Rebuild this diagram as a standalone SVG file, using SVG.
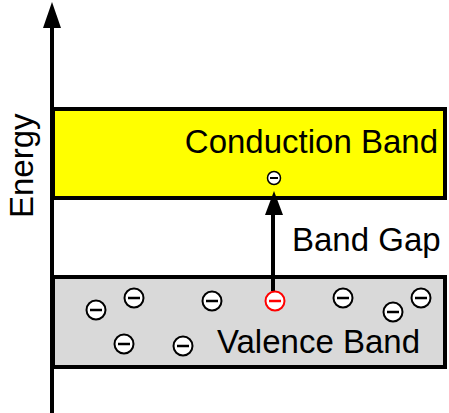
<svg xmlns="http://www.w3.org/2000/svg" width="449" height="413" viewBox="0 0 449 413">
<style>
.band{stroke:#000;stroke-width:4}
.lbl{font-family:"Liberation Sans",Arial,sans-serif;font-size:33px;fill:#000}
.e circle{fill:#fff;stroke:#000;stroke-width:2}
.e line{stroke:#000;stroke-width:2.5}
.red circle{stroke:#f00}
.red line{stroke:#f00}
</style>
<g id="conduction-band">
<rect class="band" x="53" y="109" width="392" height="89" fill="#ffff00"/>
<text class="lbl" x="438" y="153" text-anchor="end">Conduction Band</text>
</g>
<g id="valence-band">
<rect class="band" x="53" y="277" width="392" height="90" fill="#d9d9d9"/>
<text class="lbl" x="420" y="353" text-anchor="end">Valence Band</text>
</g>
<g id="axis">
<line x1="52" y1="26" x2="52" y2="413" stroke="#000" stroke-width="4"/>
<polygon points="52,2 43,28 61,28" fill="#000"/>
<text class="lbl" transform="translate(33,218) rotate(-90)">Energy</text>
</g>
<g id="connectors">
<line x1="273" y1="291" x2="273" y2="212" stroke="#000" stroke-width="4"/>
<polygon points="274,191 265,215 283,215" fill="#000"/>
</g>
<g id="band-gap">
<text class="lbl" x="292" y="251">Band Gap</text>
</g>
<g id="electrons">
<g class="e" transform="translate(274,178)"><circle r="6.5" style="stroke-width:1.5"/><line x1="-4" x2="4" y1="0" y2="0" style="stroke-width:2"/></g>
<g class="e" transform="translate(96,310)"><circle r="9.5"/><line x1="-6" x2="6"/></g>
<g class="e" transform="translate(134,298)"><circle r="9.5"/><line x1="-6" x2="6"/></g>
<g class="e" transform="translate(212,301)"><circle r="9.5"/><line x1="-6" x2="6"/></g>
<g class="e red" transform="translate(275,301)"><circle r="9.5"/><line x1="-6" x2="6"/></g>
<g class="e" transform="translate(343,298)"><circle r="9.5"/><line x1="-6" x2="6"/></g>
<g class="e" transform="translate(393,312)"><circle r="9.5"/><line x1="-6" x2="6"/></g>
<g class="e" transform="translate(421,298)"><circle r="9.5"/><line x1="-6" x2="6"/></g>
<g class="e" transform="translate(124,344)"><circle r="9.5"/><line x1="-6" x2="6"/></g>
<g class="e" transform="translate(183,346)"><circle r="9.5"/><line x1="-6" x2="6"/></g>
</g>
</svg>
